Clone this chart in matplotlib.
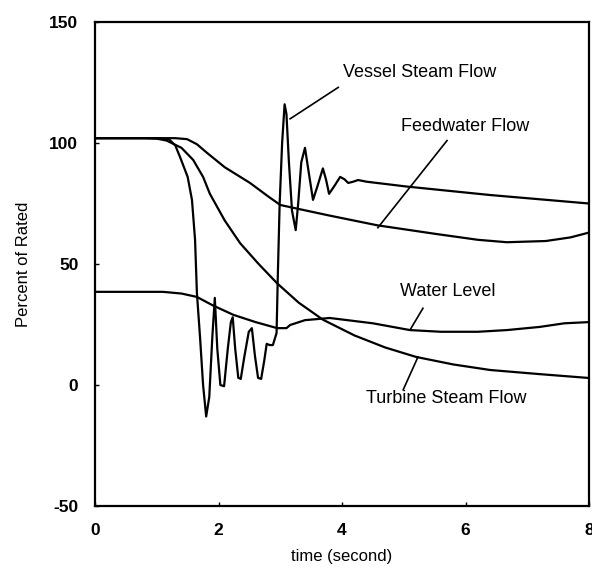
import matplotlib
matplotlib.use("Agg")
import matplotlib.pyplot as plt

plt.rcParams['font.family'] = ['Liberation Sans', 'DejaVu Sans']
plt.rcParams['axes.unicode_minus'] = False

# vessel steam flow (% rated) vs time (s)
vessel_t = [0, 1.0, 1.2, 1.3, 1.38, 1.5, 1.57, 1.62, 1.65, 1.70, 1.75, 1.80, 1.85,
            1.90, 1.94, 1.98, 2.03, 2.09, 2.15, 2.20, 2.23, 2.27, 2.32, 2.36, 2.42,
            2.49, 2.54, 2.59, 2.64, 2.69, 2.74, 2.78, 2.83, 2.88, 2.94, 2.96, 2.99,
            3.03, 3.07, 3.10, 3.14, 3.19, 3.25, 3.29, 3.34, 3.40, 3.46, 3.53, 3.60,
            3.69, 3.74, 3.79, 3.87, 3.97, 4.04, 4.10, 4.18, 4.26, 4.40, 5.05, 6.4, 8.0]
vessel = [102, 102, 101.5, 99, 94, 86, 76.5, 60, 38, 20, 0, -13, -5,
          20, 36, 15, 0, -0.5, 15, 26, 28, 15, 3, 2.5, 12,
          22, 23.5, 12, 3, 2.5, 10, 17, 16.5, 16.5, 21.5, 45, 75,
          100, 116, 112, 92, 72, 64, 75, 92, 98, 88, 76.5, 82,
          89.5, 85, 79, 82, 86, 85, 83.5, 84, 84.7, 84, 82, 78.5, 75]

feed_t = [0, 1.0, 1.3, 1.49, 1.65, 1.81, 2.1, 2.51, 2.8, 3.0, 3.16, 3.8, 4.57, 5.5, 6.2, 6.67, 7.3, 7.7, 8.0]
feed = [102, 102, 102, 101.6, 99.5, 96, 90, 83.5, 78, 74.4, 73.5, 70, 66, 62.5, 60, 59, 59.5, 61, 63]

turb_t = [0, 0.8, 1.0, 1.16, 1.4, 1.59, 1.75, 1.86, 2.1, 2.35, 2.65, 2.95, 3.3, 3.69, 4.2, 4.7, 5.2, 5.8, 6.4, 7.2, 8.0]
turb = [102, 102, 101.8, 101, 98, 93, 86, 79, 68, 58.6, 50, 42, 34, 27, 20.5, 15.5, 11.6, 8.5, 6.2, 4.5, 2.9]

level_t = [0, 0.6, 1.1, 1.4, 1.65, 1.9, 2.24, 2.6, 2.95, 3.1, 3.16, 3.4, 3.8, 4.5, 5.1, 5.6, 6.2, 6.67, 7.2, 7.6, 8.0]
level = [38.5, 38.5, 38.5, 37.8, 36.4, 33, 29, 26, 23.5, 23.5, 24.8, 26.8, 27.7, 25.5, 22.7, 22, 22, 22.7, 24, 25.5, 26]

fig = plt.figure(figsize=(5.92, 5.76), dpi=100)
ax = fig.add_axes([0.1605, 0.1215, 0.8345, 0.8403])

for t, v in [(vessel_t, vessel), (feed_t, feed), (turb_t, turb), (level_t, level)]:
    ax.plot(t, v, color='black', lw=1.6)

ax.set_xlim(0, 8)
ax.set_ylim(-50, 150)
ax.set_xticks([0, 2, 4, 6, 8])
ax.set_yticks([-50, 0, 50, 100, 150])
ax.tick_params(direction='in', length=3, width=1, labelsize=12.5, pad=12)
for lab in ax.get_xticklabels() + ax.get_yticklabels():
    lab.set_fontweight('bold')
for s in ax.spines.values():
    s.set_linewidth(1.6)

ax.set_xlabel('time (second)', fontsize=12, labelpad=8)
ax.set_ylabel('Percent of Rated', fontsize=12, labelpad=13)

# labels with leader lines
notes = [
    ('Vessel Steam Flow', (5.26, 129), (3.16, 110), (3.94, 123)),
    ('Feedwater Flow', (5.99, 107), (4.58, 65), (5.70, 101)),
    ('Water Level', (5.71, 38.5), (5.10, 22.7), (5.31, 31.7)),
    ('Turbine Steam Flow', (5.69, -5.4), (5.23, 11.6), (4.99, -2)),
]
for txt, pos, p0, p1 in notes:
    ax.text(pos[0], pos[1], txt, ha='center', va='center', fontsize=13)
    ax.plot([p0[0], p1[0]], [p0[1], p1[1]], color='black', lw=1.2)

fig.savefig('out.png', dpi=100)
